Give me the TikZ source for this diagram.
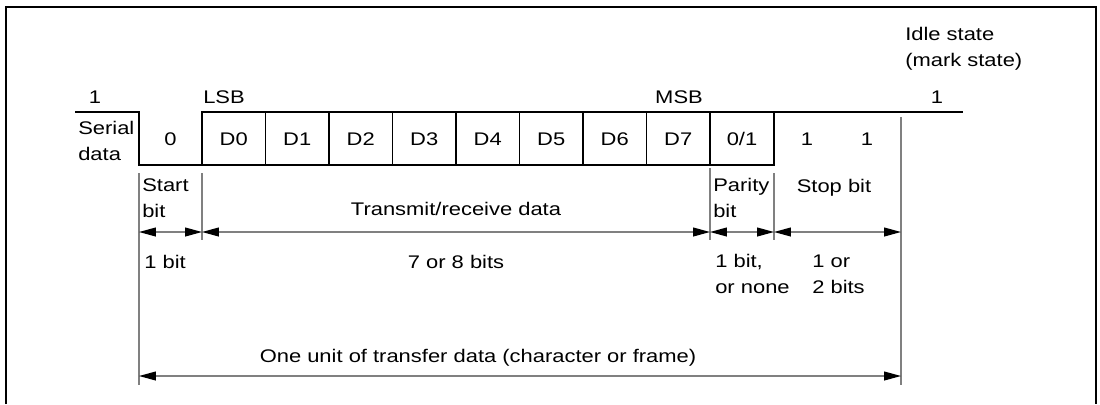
\documentclass[tikz,border=0pt]{standalone}
\usepackage{fontspec}
\setmainfont{Liberation Sans}[FakeStretch=1.2]
\usetikzlibrary{arrows.meta}

\begin{document}
\begin{tikzpicture}[x=0.025cm,y=-0.025cm,
  every node/.style={font=\fontsize{13}{17.8}\selectfont, inner sep=0pt},
  lbl/.style={align=left, anchor=base west},
  mid/.style={anchor=base},
  wave/.style={line width=0.9pt},
  guide/.style={draw=gray, line width=0.9pt},
  dim/.style={gray, line width=0.9pt,
    {Triangle[color=black,length=0.42cm,width=0.22cm]}-{Triangle[color=black,length=0.42cm,width=0.22cm]}}]
  \useasboundingbox (0,0) rectangle (1100,404);
  % frame
  \draw[line width=1.3pt] (6,404) -- (6,7) -- (1096,7) -- (1096,404);

  % serial waveform
  \draw[wave] (75,112) -| (139,165) -- (774,165) -- (774,112) -- (963,112);
  \draw[wave] (202,165) -- (202,112) -- (774,112);
  \foreach \x in {265.5,329,392.5,456,519.5,583,646.5,710}
    \draw[wave] (\x,112) -- (\x,165);

  % levels (multi-line labels sit on their last baseline)
  \node[mid] (hi1) at (95,103) {1};
  \node[lbl] (lsb) at (203,103) {LSB};
  \node[mid] (msb) at (679,103) {MSB};
  \node[mid] (hi2) at (937,103) {1};
  \node[lbl] (idle) at (905,66) {Idle state\\(mark state)};
  \node[lbl] (serial) at (78,160) {Serial\\data};

  % bit cells
  \node[mid] (c0) at (170.5,145) {0};
  \foreach \i in {0,...,7}
    \node[mid] (d\i) at ({233.75+63.5*\i},145) {D\i};
  \node[mid] (par) at (742,145) {0/1};
  \node[mid] (stop1) at (807,145) {1};
  \node[mid] (stop2) at (867,145) {1};

  % guide lines
  \coordinate (g0) at (139,173);  \coordinate (h0) at (139,385);
  \coordinate (g1) at (202,173);  \coordinate (h1) at (202,240);
  \coordinate (g2) at (710,168);  \coordinate (h2) at (710,240);
  \coordinate (g3) at (774,173);  \coordinate (h3) at (774,240);
  \coordinate (g4) at (901,117);  \coordinate (h4) at (901,385);
  \foreach \i in {0,...,4}
    \draw[guide] (g\i) -- (h\i);

  % field names
  \node[lbl] (start) at (142,217) {Start\\bit};
  \node[mid] (trx) at (456,215) {Transmit/receive data};
  \node[lbl] (parity) at (713,217) {Parity\\bit};
  \node[mid] (stopbit) at (834,192) {Stop bit};

  % field widths
  \coordinate (a0) at (139,232);
  \coordinate (a1) at (202,232);
  \coordinate (a2) at (710,232);
  \coordinate (a3) at (774,232);
  \coordinate (a4) at (901,232);
  \draw[dim] (a0) -- (a1);
  \draw[dim] (a1) -- (a2);
  \draw[dim] (a2) -- (a3);
  \draw[dim] (a3) -- (a4);

  \node[lbl] (w0) at (144,268) {1 bit};
  \node[mid] (w1) at (456,268) {7 or 8 bits};
  \node[lbl] (w2) at (715,293) {1 bit,\\or none};
  \node[lbl] (w3) at (812,293) {1 or\\2 bits};

  % whole frame
  \coordinate (u0) at (139,376);
  \coordinate (u1) at (901,376);
  \draw[dim] (u0) -- (u1);
  \node[mid] (unit) at (478,362) {One unit of transfer data (character or frame)};
\end{tikzpicture}
\end{document}
